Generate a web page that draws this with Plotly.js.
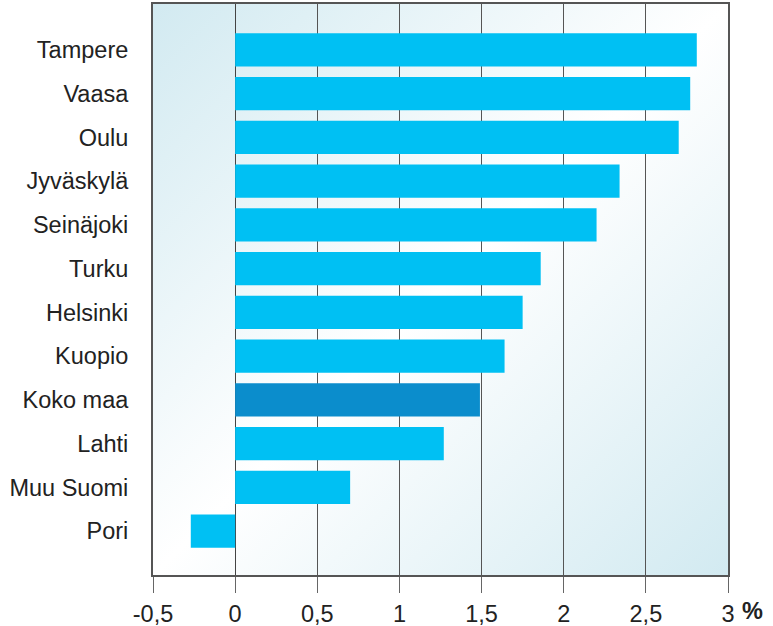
<!DOCTYPE html>
<html>
<head>
<meta charset="utf-8">
<script src="https://cdn.plot.ly/plotly-3.0.1.min.js"></script>
<style>html,body{margin:0;padding:0;background:#fff;}#chart{width:773px;height:626px;}</style>
</head>
<body>
<div id="chart"></div>
<script>
const categories = ["Tampere","Vaasa","Oulu","Jyväskylä","Seinäjoki","Turku","Helsinki","Kuopio","Koko maa","Lahti","Muu Suomi","Pori"];
const values = [2.81, 2.77, 2.70, 2.34, 2.20, 1.86, 1.75, 1.64, 1.49, 1.27, 0.70, -0.27];
const xTickValues = [-0.5, 0, 0.5, 1, 1.5, 2, 2.5, 3];
const xTickLabels = ["-0,5","0","0,5","1","1,5","2","2,5","3"];

const barColor = "#00c0f3";
const highlightColor = "#0b8dcc";
const colors = categories.map(c => c === "Koko maa" ? highlightColor : barColor);

const svg = '<svg xmlns="http://www.w3.org/2000/svg" width="100" height="100" preserveAspectRatio="none"><defs><linearGradient id="g" x1="0" y1="0" x2="1" y2="1"><stop offset="0" stop-color="#d2eaf1"/><stop offset="0.5" stop-color="#ffffff"/><stop offset="1" stop-color="#d2eaf1"/></linearGradient></defs><rect width="100" height="100" fill="url(#g)"/></svg>';
const bgSrc = 'data:image/svg+xml;charset=utf-8,' + encodeURIComponent(svg);

const trace = {
  type: "bar",
  orientation: "h",
  y: categories,
  x: values,
  marker: {color: colors, line: {width: 0}},
  hoverinfo: "x+y"
};

const fs = 23.5;

const layout = {
  width: 773, height: 626,
  margin: {l: 153, r: 45, t: 4, b: 51},
  paper_bgcolor: "#ffffff",
  plot_bgcolor: "rgba(0,0,0,0)",
  separators: ", ",
  bargap: 0.24,
  showlegend: false,
  font: {family: "Liberation Sans, Arial, sans-serif", size: fs, color: "#222"},
  xaxis: {
    range: [-0.5, 3],
    tickvals: xTickValues,
    ticktext: xTickLabels,
    ticks: "outside", ticklen: 16, tickcolor: "#666", tickwidth: 1,
    ticklabelstandoff: 1,
    showgrid: true, gridcolor: "#555", gridwidth: 1,
    zeroline: true, zerolinecolor: "#444", zerolinewidth: 1,
    showline: true, linecolor: "#555", linewidth: 2, mirror: true,
    tickfont: {size: fs, color: "#222"},
    fixedrange: true
  },
  yaxis: {
    type: "category",
    categoryorder: "array",
    categoryarray: categories.slice().reverse(),
    range: [-1.0, 12.05],
    showgrid: false, zeroline: false,
    showline: true, linecolor: "#555", linewidth: 2, mirror: true,
    ticks: "", ticklabelstandoff: 18,
    tickfont: {size: fs, color: "#222"},
    fixedrange: true
  },
  images: [{
    source: bgSrc, xref: "paper", yref: "paper",
    x: 0, y: 1, sizex: 1, sizey: 1,
    xanchor: "left", yanchor: "top",
    sizing: "stretch", layer: "below"
  }],
  annotations: [{
    text: "<b>%</b>", xref: "paper", yref: "paper",
    x: 1, y: 0, xanchor: "left", yanchor: "top",
    xshift: 12, yshift: -21, showarrow: false,
    font: {size: fs, color: "#222"}
  }]
};

Plotly.newPlot("chart", [trace], layout, {displayModeBar: false, staticPlot: true});
</script>
</body>
</html>
